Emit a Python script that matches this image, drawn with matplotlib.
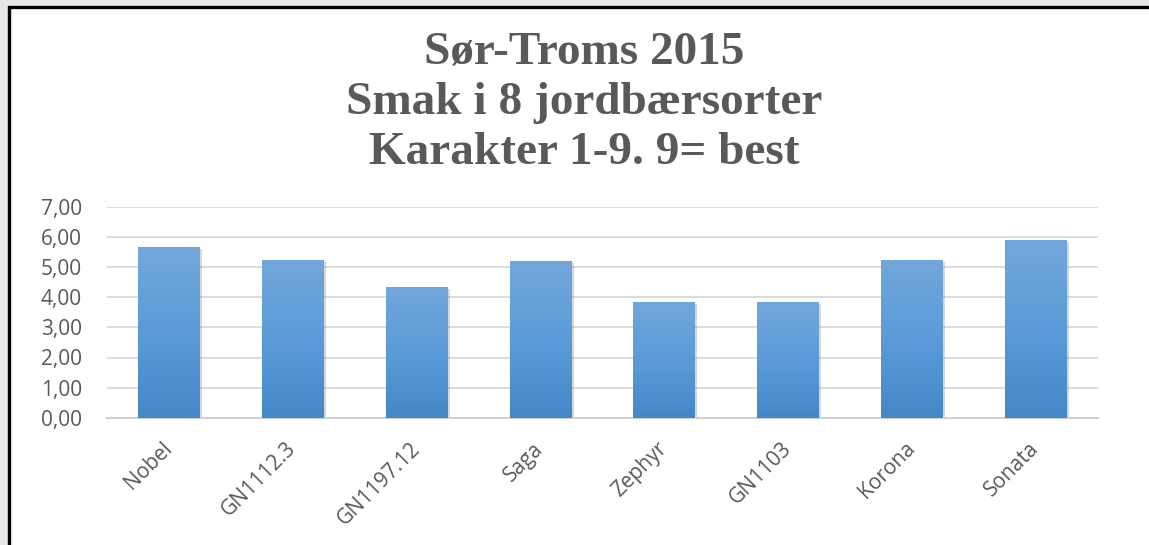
import numpy as np
import matplotlib
matplotlib.use('Agg')
import matplotlib.pyplot as plt
from matplotlib.patches import Rectangle
from matplotlib.colors import LinearSegmentedColormap
import matplotlib.patheffects as pe

# data
sorter = ['Nobel', 'GN1112.3', 'GN1197.12', 'Saga', 'Zephyr', 'GN1103', 'Korona', 'Sonata']
smak = [5.68, 5.25, 4.35, 5.20, 3.85, 3.85, 5.25, 5.92]
yticks = [0, 1, 2, 3, 4, 5, 6, 7]
ytick_labels = ['0,00', '1,00', '2,00', '3,00', '4,00', '5,00', '6,00', '7,00']
title = 'Sør-Troms 2015\nSmak i 8 jordbærsorter\nKarakter 1-9. 9= best'

W, H = 1149, 545
fig = plt.figure(figsize=(W / 100, H / 100), dpi=100, facecolor='#e6e6e6')

# white chart area with black frame on left/top
fig.patches.append(Rectangle((8.5 / W, -0.05), 1.2, (H - 6.5) / H + 0.05,
                             transform=fig.transFigure, facecolor='white',
                             edgecolor='black', linewidth=2.4, zorder=-5))

ax = fig.add_axes([107 / W, (H - 417.7) / H, (1098 - 107) / W, (417.7 - 207) / H])
ax.set_facecolor('none')

x = np.arange(len(sorter))
bars = ax.bar(x, smak, width=0.5, color='#5b9bd5', zorder=2)

grad = LinearSegmentedColormap.from_list('g', ['#4487c8', '#5b9bd9', '#72a7db'])
img = np.linspace(0, 1, 256).reshape(-1, 1)
for b in bars:
    b.set_path_effects([pe.withSimplePatchShadow(offset=(1.5, -1.5), shadow_rgbFace='#808080', alpha=0.3)])
    bx, by = b.get_x(), b.get_y()
    im = ax.imshow(img, cmap=grad, origin='lower', aspect='auto',
                   extent=[bx, bx + b.get_width(), by, by + b.get_height()], zorder=3)
    im.set_clip_path(b)

ax.set_xlim(-0.5, len(sorter) - 0.5)
ax.set_ylim(0, 7)
ax.set_yticks(yticks)
ax.set_yticklabels(ytick_labels)
ax.yaxis.grid(True, color='#d9d9d9', linewidth=1.3, zorder=0)
ax.set_axisbelow(True)
for s in ['top', 'right', 'left']:
    ax.spines[s].set_visible(False)
ax.spines['bottom'].set_color('#d0d0d0')
ax.spines['bottom'].set_linewidth(1.5)
ax.tick_params(axis='both', length=0, colors='#595959')
ax.tick_params(axis='y', pad=18, labelsize=15)

ax.set_xticks(x)
ax.set_xticklabels(sorter, rotation=45, ha='right', va='center', rotation_mode='anchor',
                   fontsize=15)
ax.tick_params(axis='x', pad=20)
for lab in ax.get_xticklabels() + ax.get_yticklabels():
    lab.set_family('Open Sans')

fig.text(584 / W, 1 - 103 / H, title, ha='center', va='center', fontsize=34,
         fontweight='bold', family='Liberation Serif', color='#595959',
         linespacing=1.26)

fig.savefig('out.png', dpi=100, facecolor=fig.get_facecolor())
